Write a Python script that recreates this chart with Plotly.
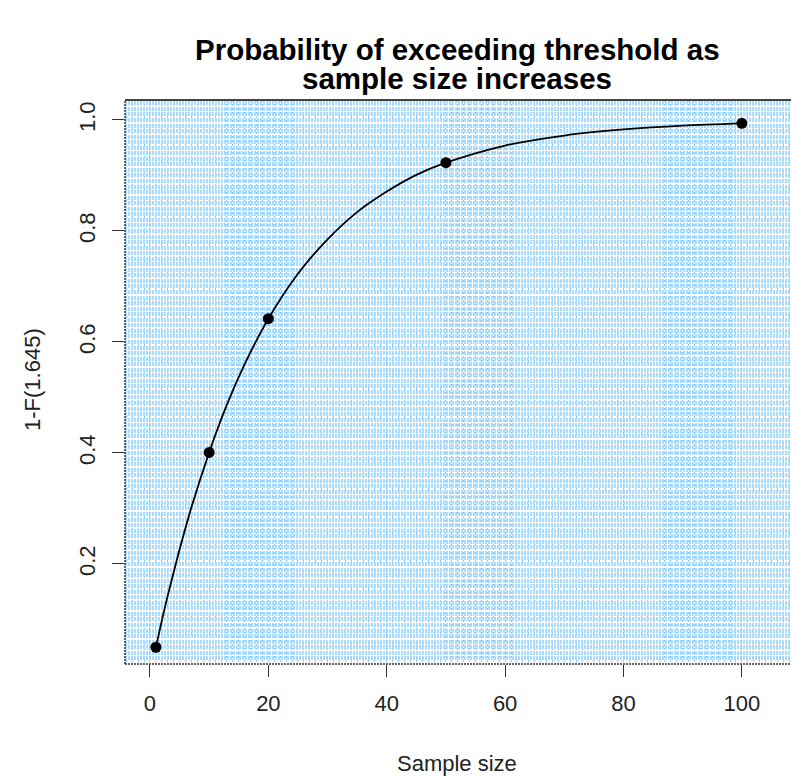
import plotly.graph_objects as go

# Curve values
curve_n = [1, 2, 3, 5, 7, 10, 13, 16, 20, 25, 30, 35, 40, 45, 50, 60, 70, 80, 90, 100]
curve_p = [0.050, 0.098, 0.143, 0.226, 0.302, 0.401, 0.487, 0.560, 0.642, 0.723, 0.785,
           0.834, 0.871, 0.901, 0.923, 0.954, 0.972, 0.983, 0.990, 0.994]

# Highlighted points
point_n = [1, 10, 20, 50, 100]
point_p = [0.050, 0.401, 0.642, 0.923, 0.994]

x_ticks = [0, 20, 40, 60, 80, 100]
y_ticks = [0.2, 0.4, 0.6, 0.8, 1.0]
y_tick_labels = ["0.2", "0.4", "0.6", "0.8", "1.0"]
title_lines = ["Probability of exceeding threshold as", "sample size increases"]

FONT = "Liberation Sans, Arial, sans-serif"
GRID_H = "#A8DCFF"
GRID_V = "#80CBFF"

fig = go.Figure()
fig.add_trace(go.Scatter(x=curve_n, y=curve_p, mode="lines",
                         line=dict(color="black", width=1.8, shape="spline", smoothing=0.8),
                         hoverinfo="skip", showlegend=False))
fig.add_trace(go.Scatter(x=point_n, y=point_p, mode="markers",
                         marker=dict(color="black", size=11), showlegend=False))

fig.update_layout(
    width=791, height=776,
    margin=dict(l=125, r=0, t=100, b=112),
    plot_bgcolor="white", paper_bgcolor="white",
    font=dict(family=FONT, size=22, color="#222"),
    showlegend=False,
)

fig.update_xaxes(range=[-4.22, 108.3], tickmode="array", tickvals=x_ticks,
                 ticks="outside", ticklen=12, tickcolor="#333", tickwidth=1,
                 showline=False, zeroline=False, layer="below traces",
                 showgrid=True, gridcolor=GRID_V, griddash="2px,2px", gridwidth=1,
                 minor=dict(dtick=1, tick0=0, showgrid=True, gridcolor=GRID_V,
                            griddash="2px,2px", gridwidth=1, ticks=""),
                 ticklabelstandoff=8,
                 tickfont=dict(size=22, color="#222"))
fig.update_yaxes(range=[0.0198, 1.036], tickmode="array", tickvals=y_ticks,
                 ticktext=y_tick_labels, tickangle=-90,
                 ticks="outside", ticklen=12, tickcolor="#333", tickwidth=1,
                 showline=False, zeroline=False,
                 showgrid=True, gridcolor=GRID_H, griddash="2px,1px", gridwidth=4,
                 minor=dict(dtick=0.01, tick0=0, showgrid=True, gridcolor=GRID_H,
                            griddash="2px,1px", gridwidth=4, ticks=""),
                 ticklabelstandoff=8,
                 tickfont=dict(size=22, color="#222"))

# Plot frame
fig.add_shape(type="line", xref="paper", yref="paper", x0=0, x1=1, y0=1, y1=1,
              line=dict(color="#444", width=2), layer="above")
fig.add_shape(type="line", xref="paper", yref="paper", x0=0, x1=0, y0=0, y1=1,
              line=dict(color="#333", width=1.5, dash="2px,1px"), layer="above")
fig.add_shape(type="line", xref="paper", yref="paper", x0=0, x1=1, y0=0, y1=0,
              line=dict(color="#333", width=1.5, dash="2px,1px"), layer="above")

# Title (two lines)
for line, ypix in zip(title_lines, [50, 78]):
    fig.add_annotation(text="<b>" + line + "</b>", xref="paper", yref="paper",
                       x=(457 - 125) / 666, y=(664 - ypix) / 564,
                       xanchor="center", yanchor="middle", showarrow=False,
                       font=dict(family=FONT, size=29.5, color="black"))

# Axis titles
fig.add_annotation(text="Sample size", xref="paper", yref="paper",
                   x=(457 - 125) / 666, y=-(763 - 664) / 564,
                   xanchor="center", yanchor="middle", showarrow=False,
                   font=dict(family=FONT, size=22, color="#222"))
fig.add_annotation(text="1-F(1.645)", xref="paper", yref="paper",
                   x=-(125 - 32) / 666, y=(664 - 380) / 564, textangle=-90,
                   xanchor="center", yanchor="middle", showarrow=False,
                   font=dict(family=FONT, size=22, color="#222"))

fig.write_html("out.html")
